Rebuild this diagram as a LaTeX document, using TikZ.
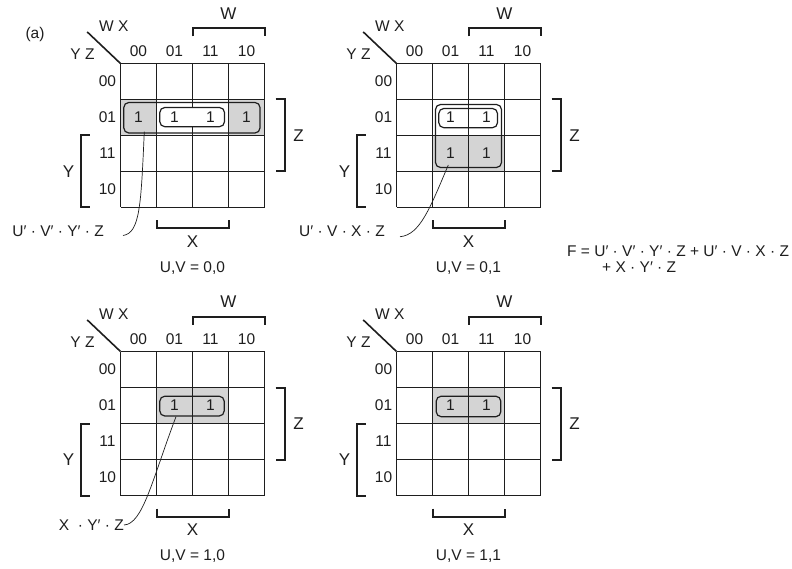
\documentclass[tikz,border=0pt]{standalone}
\usepackage{fontspec}
\setmainfont{Liberation Sans}
\definecolor{cellgray}{RGB}{212,212,212}
\definecolor{ink}{RGB}{30,30,30}
\tikzset{
  lbl/.style={inner sep=0pt, text=ink},
  biglbl/.style={inner sep=0pt, text=ink, font=\fontsize{17}{20}\selectfont},
  gridline/.style={draw=ink, line width=1.25pt},
  bracketline/.style={draw=ink, line width=2pt},
  diagline/.style={draw=ink, line width=1.6pt},
  grp/.style={draw=ink, line width=1.2pt, rounded corners=5pt},
  leader/.style={draw=ink, line width=0.7pt},
  shade/.style={fill=cellgray, draw=none},
}
\newcommand\cs{36}
\newcommand\KMapBase{%
  \foreach \i in {0,...,4} {
    \draw[gridline] ({\i*\cs},0) -- ({\i*\cs},{4*\cs});
    \draw[gridline] (0,{\i*\cs}) -- ({4*\cs},{\i*\cs});
  }
  \foreach \t [count=\k from 0] in {00,01,11,10} {
    \node[lbl] (col\k) at ({(\k+0.5)*\cs},-12.7) {\t};
    \node[lbl] (row\k) at (-13,{(\k+0.5)*\cs}) {\t};
  }
  \coordinate (corner) at (0,0);
  \coordinate (diagend) at (-33.3,-31.6);
  \draw[diagline] (diagend) -- (corner);
  \node[lbl] (wx) at (-6.7,-37.3) {W X};
  \node[lbl] (yz) at (-38,-9) {Y Z};
  % W bracket
  \draw[bracketline] ({2*\cs},-27) -- ({2*\cs},-35) -- ({4*\cs},-35) -- ({4*\cs},-27);
  \node[biglbl] (wl) at ({3*\cs},-50) {W};
  % Z bracket
  \draw[bracketline] (155,{\cs}) -- (164,{\cs}) -- (164,{3*\cs}) -- (155,{3*\cs});
  \node[biglbl] (zl) at (178,{2*\cs}) {Z};
  % Y bracket
  \draw[bracketline] (-31,{2*\cs}) -- (-40,{2*\cs}) -- (-40,{4*\cs}) -- (-31,{4*\cs});
  \node[biglbl] (yl) at (-52,{3*\cs}) {Y};
  % X bracket
  \draw[bracketline] ({\cs},157) -- ({\cs},165) -- ({3*\cs},165) -- ({3*\cs},157);
  \node[biglbl] (xl) at ({2*\cs},178) {X};
}
\begin{document}
\begin{tikzpicture}[x=1pt,y=-1pt,font=\fontsize{15.5}{18}\selectfont]
\useasboundingbox (0,0) rectangle (792,569);
\node[lbl] (tag) at (35,34) {(a)};

% ---------- Map 1: U,V = 0,0
\begin{scope}[shift={(120.5,63.5)}, name prefix=a-]
  \fill[shade] (0,{\cs}) rectangle ({\cs},{2*\cs});
  \fill[shade] ({3*\cs},{\cs}) rectangle ({4*\cs},{2*\cs});
  \KMapBase
  \draw[grp] (3.3,39) rectangle (139.5,69.5);
  \draw[grp, fill=white] (39.3,44) rectangle (104,63.2);
  \foreach \k in {0,...,3} { \node[lbl] (one\k) at ({(\k+0.5)*\cs},{1.5*\cs}) {1}; }
  \node[lbl] (uv) at ({2*\cs},205) {U,V = 0,0};
\end{scope}
\node[lbl, anchor=east] (t1) at (104,231) {U′ · V′ · Y′ · Z};
\coordinate (s1) at (144.3,131.7);
\coordinate (e1) at (123,235.5);
\draw[leader] (s1) .. controls (141,205) and (140,233) .. (e1);

% ---------- Map 2: U,V = 0,1
\begin{scope}[shift={(396.5,63.5)}, name prefix=b-]
  \fill[shade] ({\cs},{2*\cs}) rectangle ({3*\cs},{3*\cs});
  \KMapBase
  \draw[grp] (39,41) rectangle (105,104);
  \draw[grp] (42.3,45) rectangle (101,64.2);
  \foreach \k in {1,2} {
    \node[lbl] (onea\k) at ({(\k+0.5)*\cs},{1.5*\cs}) {1};
    \node[lbl] (oneb\k) at ({(\k+0.5)*\cs},{2.5*\cs}) {1};
  }
  \node[lbl] (uv) at ({2*\cs},205) {U,V = 0,1};
\end{scope}
\node[lbl, anchor=east] (t2) at (385,231) {U′ · V · X · Z};
\coordinate (s2) at (448.3,165);
\coordinate (e2) at (400,236.7);
\draw[leader] (s2) .. controls (430,208) and (420,235) .. (e2);

% ---------- Map 3: U,V = 1,0
\begin{scope}[shift={(120.5,351.5)}, name prefix=c-]
  \fill[shade] ({\cs},{\cs}) rectangle ({3*\cs},{2*\cs});
  \KMapBase
  \draw[grp] (39.3,44.7) rectangle (103.7,64.5);
  \foreach \k in {1,2} { \node[lbl] (one\k) at ({(\k+0.5)*\cs},{1.5*\cs}) {1}; }
  \node[lbl] (uv) at ({2*\cs},205) {U,V = 1,0};
\end{scope}
\node[lbl, anchor=east] (t3) at (124,525) {X \ · Y′ · Z};
\coordinate (s3) at (176,416.7);
\coordinate (e3) at (124,525);
\draw[leader] (s3) .. controls (152,480) and (143,524) .. (e3);

% ---------- Map 4: U,V = 1,1
\begin{scope}[shift={(396.5,351.5)}, name prefix=d-]
  \fill[shade] ({\cs},{\cs}) rectangle ({3*\cs},{2*\cs});
  \KMapBase
  \draw[grp] (39.7,44.7) rectangle (104.3,65.2);
  \foreach \k in {1,2} { \node[lbl] (one\k) at ({(\k+0.5)*\cs},{1.5*\cs}) {1}; }
  \node[lbl] (uv) at ({2*\cs},205) {U,V = 1,1};
\end{scope}

% ---------- Formula
\node[lbl, anchor=west] (f1) at (567,251.5) {F = U′ · V′ · Y′ · Z + U′ · V · X · Z};
\node[lbl, anchor=west] (f2) at (602,267.5) {+ X · Y′ · Z};
\end{tikzpicture}
\end{document}
